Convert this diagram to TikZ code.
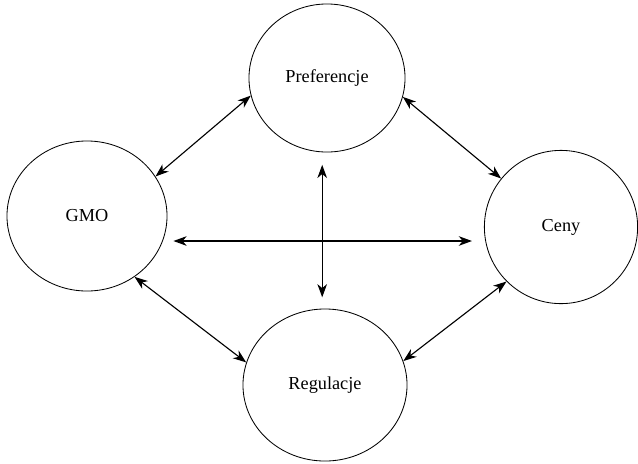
\documentclass[tikz,border=0pt]{standalone}
\usepackage{fontspec}
\setmainfont{Liberation Serif}
\usetikzlibrary{shapes.geometric,arrows.meta}

\begin{document}
\begin{tikzpicture}[x=0.025cm, y=-0.025cm,
				every node/.style={ellipse, draw, line width=0.6pt, inner sep=0pt, font=\fontsize{13}{15}\selectfont},
				arr/.style={{Stealth[length=0.33cm,width=0.24cm,inset=0.1cm]}-{Stealth[length=0.33cm,width=0.24cm,inset=0.1cm]}, line width=0.8pt}
				]
				\useasboundingbox (0,0) rectangle (638,463);
				\node[minimum width=4cm, minimum height=3.75cm] (gmo) at (87,216) {GMO};
				\node[minimum width=3.9cm, minimum height=3.7cm] (pref) at (327,78) {Preferencje};
				\node[minimum width=3.83cm, minimum height=3.83cm] (ceny) at (561,227) {Ceny};
				\node[minimum width=4.1cm, minimum height=3.8cm] (reg) at (325,385) {Regulacje};
				% connectors
				\draw[arr] (gmo.30) -- (pref.193);
				\draw[arr] (pref.346) -- (ceny.141);
				\draw[arr] (gmo.308) -- (reg.164);
				\draw[arr] (ceny.225) -- (reg.17);
				\draw[arr, shorten <=11\pgflinewidth, shorten >=10\pgflinewidth] ([xshift=-0.12cm]pref.south) -- ([xshift=-0.12cm]pref.south |- reg.north);
				\draw[arr] ([shift={(6,25)}]gmo.east) -- ([shift={(-12,14)}]ceny.west);
			\end{tikzpicture}
\end{document}
